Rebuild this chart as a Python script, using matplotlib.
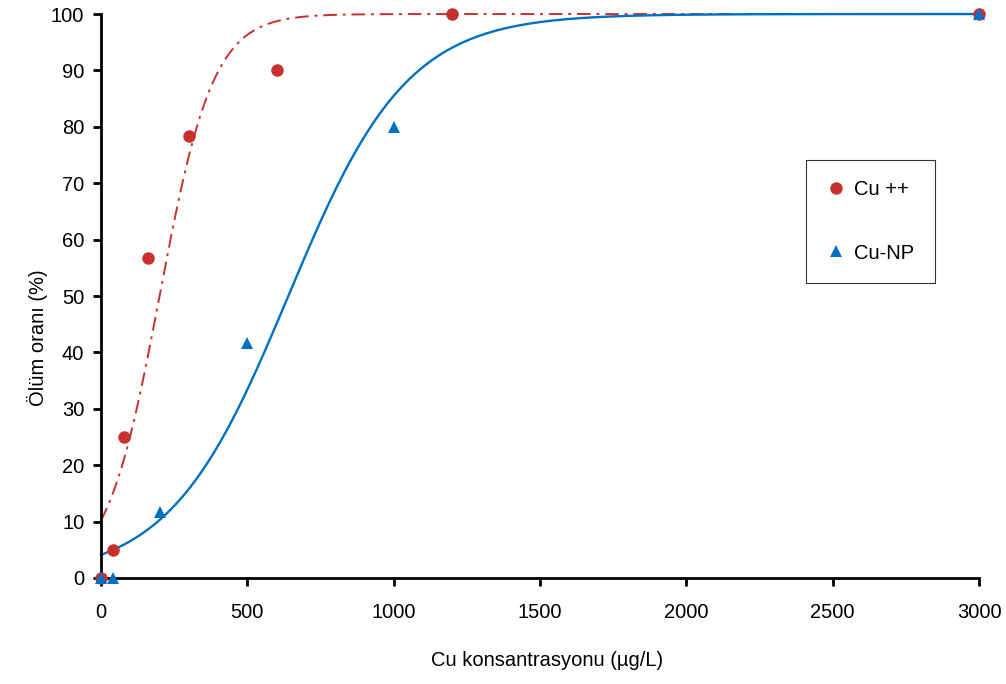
import numpy as np
import matplotlib.pyplot as plt

plt.rcParams['font.family'] = ['Liberation Sans', 'DejaVu Sans']

# measured points
cu_ion_x = [0, 40, 80, 160, 300, 600, 1200, 3000]
cu_ion_y = [0, 5, 25, 56.7, 78.3, 90, 100, 100]
cu_np_x = [0, 40, 200, 500, 1000, 3000]
cu_np_y = [0, 0, 11.7, 41.7, 80, 100]

# logistic trend line parameters (midpoint, scale)
ion_mid, ion_scale = 200, 92
np_mid, np_scale = 640, 203

red = '#C8302E'
blue = '#0070C0'

fig = plt.figure(figsize=(10.06, 6.84), dpi=100)
ax = fig.add_axes([0.1004, 0.155, 0.8728, 0.8245])

xx = np.linspace(0, 3000, 600)
ax.plot(xx, 100 / (1 + np.exp(-(xx - ion_mid) / ion_scale)), color=red, lw=1.4,
        ls=(0, (7, 3, 1.5, 3)), clip_on=False)
ax.plot(xx, 100 / (1 + np.exp(-(xx - np_mid) / np_scale)), color=blue, lw=1.7,
        clip_on=False)

ax.plot(cu_ion_x, cu_ion_y, 'o', color=red, ms=9, mew=0, label='Cu ++', clip_on=False, zorder=5)
ax.plot(cu_np_x, cu_np_y, '^', color=blue, ms=9, mew=0, label='Cu-NP', clip_on=False, zorder=6)

ax.set_xlim(0, 3000)
ax.set_ylim(0, 100)
ax.set_xticks([0, 500, 1000, 1500, 2000, 2500, 3000])
ax.set_yticks(range(0, 101, 10))
for s in ['top', 'right']:
    ax.spines[s].set_visible(False)
for s in ['left', 'bottom']:
    ax.spines[s].set_linewidth(2)
ax.tick_params(width=2, length=6, labelsize=14.5, pad=6)
ax.tick_params(axis='x', pad=12)

ax.set_xlabel('Cu konsantrasyonu (µg/L)', fontsize=14.5)
ax.xaxis.set_label_coords(0.508, -0.13)
ax.set_ylabel('Ölüm oranı (%)', fontsize=14.5)
ax.yaxis.set_label_coords(-0.06, 0.4255)

leg = ax.legend(loc='upper left', bbox_to_anchor=(0.803, 0.741), frameon=True,
                fancybox=False, edgecolor='black', fontsize=14.5, labelspacing=2.2,
                borderpad=1.0, handletextpad=0.4, handlelength=1.0, borderaxespad=0)
leg.get_frame().set_linewidth(0.8)

fig.savefig('out.png', dpi=100)
